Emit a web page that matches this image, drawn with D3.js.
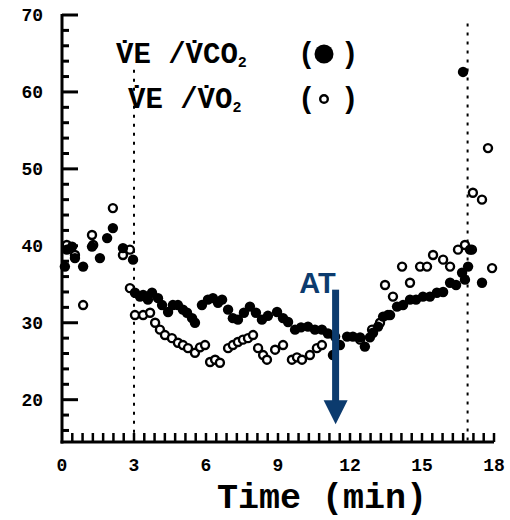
<!DOCTYPE html>
<html>
<head>
<meta charset="utf-8">
<script src="https://cdn.jsdelivr.net/npm/d3@7"></script>
<style>
  body { margin: 0; background: #fff; }
  svg { display: block; }
  .mono { font-family: "Liberation Mono", "DejaVu Sans Mono", monospace; font-weight: bold; }
</style>
</head>
<body>
<div id="chart"></div>
<script>
// VE/VCO2 (filled) : [time min, value]
const veVco2 = [
  [0.12, 37.3], [0.2, 39.5], [0.42, 39.9], [0.54, 38.4], [0.88, 37.3], [1.25, 39.9],
  [1.58, 38.4], [1.88, 41.0], [2.12, 42.3], [2.54, 39.7], [2.96, 38.2],
  [3.04, 33.9], [3.25, 33.4], [3.38, 33.6], [3.58, 33.0], [3.75, 33.9], [4.0, 33.2],
  [4.17, 32.3], [4.42, 31.4], [4.62, 32.3], [4.83, 32.3], [5.04, 31.7], [5.21, 31.3],
  [5.42, 30.6], [5.54, 30.0], [5.83, 32.3], [6.08, 33.0], [6.29, 33.2], [6.5, 32.6],
  [6.67, 33.0], [6.92, 31.7], [7.12, 30.6], [7.33, 30.4], [7.58, 31.3], [7.83, 32.1],
  [8.08, 31.3], [8.33, 30.4], [8.58, 30.9], [8.96, 31.4], [9.21, 30.6], [9.42, 30.1],
  [9.71, 29.1], [9.96, 29.4], [10.25, 29.5], [10.54, 29.1], [10.83, 29.1], [11.08, 28.6],
  [11.38, 28.2], [11.29, 25.8], [11.58, 27.1], [11.88, 28.2], [12.12, 28.2], [12.42, 28.1],
  [12.62, 26.9], [12.83, 28.1], [12.96, 28.7], [13.17, 29.5], [13.38, 30.8], [13.67, 31.0],
  [13.96, 32.1], [14.21, 32.3], [14.5, 33.0], [14.75, 33.0], [15.04, 33.4], [15.33, 33.4],
  [15.62, 33.9], [15.88, 34.0], [16.17, 35.2], [16.42, 34.9], [16.67, 36.5], [16.79, 35.6],
  [16.92, 37.3], [17.0, 39.5], [16.71, 62.6], [17.5, 35.2]
];

// VE/VO2 (open)
const veVo2 = [
  [0.2, 40.1], [0.54, 38.8], [0.88, 32.3], [1.25, 41.4], [1.3, 40.1], [2.12, 44.9],
  [2.54, 38.8], [2.83, 39.5],
  [2.83, 34.5], [3.04, 31.0], [3.38, 31.0], [3.67, 31.3], [3.88, 30.0], [4.08, 29.1],
  [4.29, 28.4], [4.58, 28.0], [4.83, 27.4], [5.04, 27.1], [5.25, 26.7], [5.54, 26.1],
  [5.75, 26.8], [5.96, 27.1], [6.17, 24.9], [6.38, 25.2], [6.58, 24.8], [6.92, 26.7],
  [7.12, 27.1], [7.33, 27.5], [7.54, 27.8], [7.75, 28.0], [7.96, 28.4], [8.17, 26.7],
  [8.38, 25.8], [8.54, 25.2], [8.88, 26.5], [9.21, 27.1], [9.58, 25.2], [9.79, 25.5],
  [10.0, 25.2], [10.33, 25.8], [10.62, 26.7], [10.83, 27.1], [12.42, 27.8], [12.92, 29.1],
  [13.25, 30.0], [13.58, 31.0], [13.46, 34.9], [13.79, 33.4], [14.17, 37.3], [14.5, 35.2],
  [14.92, 37.3], [15.21, 37.3], [15.46, 38.8], [15.88, 38.2], [16.17, 37.3], [16.5, 39.5],
  [16.79, 40.1], [17.08, 39.5], [17.12, 46.9], [17.5, 46.0], [17.75, 52.7], [17.92, 37.1]
];

const xTickLabels = [0, 3, 6, 9, 12, 15, 18];
const yTickLabels = [20, 30, 40, 50, 60, 70];
// dotted phase markers: [time, top value]
const phaseLines = [[3, 62.9], [16.9, 68.9]];
const atTime = 11.4;
const atTop = 34.3, atTip = 16.8;

const W = 510, H = 520;
const svg = d3.select("#chart").append("svg").attr("width", W).attr("height", H);

const x = d3.scaleLinear().domain([0, 18]).range([62, 494]);
const y = d3.scaleLinear().domain([14.5, 70]).range([442, 15]);

// phase lines
svg.selectAll(".phase")
  .data(phaseLines)
  .enter().append("line")
  .attr("x1", d => x(d[0])).attr("x2", d => x(d[0]))
  .attr("y1", d => y(d[1])).attr("y2", y(14.5))
  .attr("stroke", "#000").attr("stroke-width", 2)
  .attr("stroke-dasharray", "3,6");

// y axis
let yAxis = svg.append("g");
yAxis.append("line")
  .attr("x1", x(0)).attr("x2", x(0)).attr("y1", y(70) - 1).attr("y2", y(14.5) + 1.5)
  .attr("stroke", "#000").attr("stroke-width", 3);
yAxis.selectAll(".ytick")
  .data(d3.range(16, 70.1, 2))
  .enter().append("line")
  .attr("x1", x(0)).attr("x2", d => x(0) + (d % 10 === 0 ? 16 : 7))
  .attr("y1", d => y(d)).attr("y2", d => y(d))
  .attr("stroke", "#000").attr("stroke-width", 3);
yAxis.selectAll(".ylab")
  .data(yTickLabels)
  .enter().append("text")
  .attr("class", "mono")
  .attr("x", 43).attr("y", d => y(d) + 6)
  .attr("text-anchor", "end").attr("font-size", 18)
  .text(d => d);

// x axis
let xAxis = svg.append("g");
xAxis.append("line")
  .attr("x1", x(0) - 1.5).attr("x2", x(18)).attr("y1", y(14.5)).attr("y2", y(14.5))
  .attr("stroke", "#000").attr("stroke-width", 3);
xAxis.selectAll(".xtick")
  .data(d3.range(1, 43))
  .enter().append("line")
  .attr("x1", d => x(d * 3 / 7)).attr("x2", d => x(d * 3 / 7))
  .attr("y1", y(14.5)).attr("y2", y(14.5) - 9)
  .attr("stroke", "#000").attr("stroke-width", 2.5);
xAxis.selectAll(".xlab")
  .data(xTickLabels)
  .enter().append("text")
  .attr("class", "mono")
  .attr("x", d => x(d)).attr("y", 471)
  .attr("text-anchor", "middle").attr("font-size", 18)
  .text(d => d);

svg.append("text")
  .attr("class", "mono")
  .attr("x", 322).attr("y", 508)
  .attr("text-anchor", "middle").attr("font-size", 35)
  .text("Time (min)");

// points
svg.append("g").selectAll("circle")
  .data(veVo2)
  .enter().append("circle")
  .attr("cx", d => x(d[0])).attr("cy", d => y(d[1]))
  .attr("r", 4)
  .attr("fill", "#fff").attr("stroke", "#000").attr("stroke-width", 2.4);

svg.append("g").selectAll("circle")
  .data(veVco2)
  .enter().append("circle")
  .attr("cx", d => x(d[0])).attr("cy", d => y(d[1]))
  .attr("r", 5.2)
  .attr("fill", "#000");

// legend
function legendLine(x0, yb, main, sub, filled) {
  let t = svg.append("text").attr("class", "mono")
    .attr("x", x0).attr("y", yb).attr("font-size", 29);
  t.append("tspan").text(main);
  t.append("tspan").attr("font-size", 15).attr("dy", 4).text(sub);
  svg.append("text").attr("class", "mono")
    .attr("x", 298).attr("y", yb).attr("font-size", 29).text("(");
  svg.append("text").attr("class", "mono")
    .attr("x", 341).attr("y", yb).attr("font-size", 29).text(")");
  svg.append("circle")
    .attr("cx", 324).attr("cy", yb - 9)
    .attr("r", filled ? 9.5 : 3.8)
    .attr("fill", filled ? "#000" : "#fff")
    .attr("stroke", "#000").attr("stroke-width", filled ? 0 : 2.4);
}
legendLine(116, 63, "V\u0307E /V\u0307CO", "2", true);
legendLine(128, 108, "V\u0307E /V\u0307O", "2", false);

// AT annotation
const navy = "#0c3b6e";
svg.append("text")
  .attr("x", x(atTime) - 18).attr("y", 293)
  .attr("text-anchor", "middle")
  .attr("font-family", "Liberation Sans, Arial, sans-serif")
  .attr("font-weight", "bold").attr("font-size", 29)
  .attr("fill", navy)
  .text("AT");
svg.append("line")
  .attr("x1", x(atTime)).attr("x2", x(atTime))
  .attr("y1", y(atTop)).attr("y2", y(atTip) - 20)
  .attr("stroke", navy).attr("stroke-width", 7);
svg.append("path")
  .attr("d", `M${x(atTime) - 12},${y(atTip) - 24} L${x(atTime) + 12},${y(atTip) - 24} L${x(atTime)},${y(atTip)} Z`)
  .attr("fill", navy);
</script>
</body>
</html>
